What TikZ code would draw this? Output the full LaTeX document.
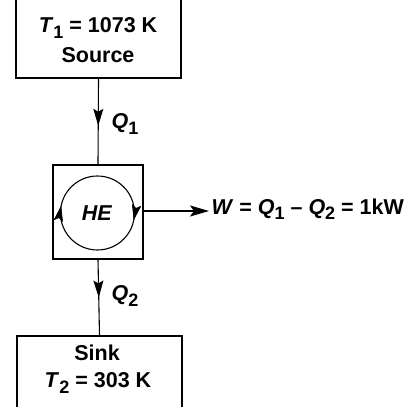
\documentclass[tikz,border=0pt]{standalone}
\usepackage{fontspec}
\setmainfont{Liberation Sans}
\usetikzlibrary{arrows.meta,decorations.markings}
\newcommand{\lowidx}[1]{\raisebox{-0.45ex}{\fontsize{18}{18}\selectfont #1}}
\begin{document}
\begin{tikzpicture}[x=1pt,y=-1pt, line width=1.1pt,
  box/.style={draw, rectangle, inner sep=0pt, line width=1.2pt},
  txt/.style={font=\fontsize{21.5}{25}\selectfont\bfseries, inner sep=0pt},
  midtip/.style={postaction=decorate, decoration={markings, mark=at position #1 with {\arrow{Stealth[length=17pt,width=10pt,inset=3pt]}}}},
  cyctip/.style={postaction=decorate, decoration={markings, mark=at position #1 with {\arrow{Stealth[length=15pt,width=9pt,inset=3pt]}}}},
  endtip/.style={-{Stealth[length=19pt,width=11pt,inset=4pt]}}]
\useasboundingbox (0,0) rectangle (416,407);
% boxes
\node[box, minimum width=165pt, minimum height=110pt] (src) at (98.5,23) {};
\node[box, minimum width=90pt, minimum height=94pt] (he) at (98,212) {};
\node[box, minimum width=165pt, minimum height=110pt] (sink) at (99.5,391) {};
% texts
\node[txt] (t1) at (98,28) {\textit{T}\lowidx{1} = 1073 K};
\node[txt] (srclbl) at (98,55) {Source};
\node[txt] (sinklbl) at (97,353) {Sink};
\node[txt] (t2) at (98,383) {\textit{T}\lowidx{2} = 303 K};
\node[txt] (helbl) at (97,213) {\textit{HE}};
% cycle
\node[circle, minimum size=74pt, inner sep=0pt] (cyc) at (98,213) {};
\draw[cyctip=0.03, cyctip=0.53] (cyc.west) arc[start angle=180, end angle=540, radius=37];
% heat flows
\draw[midtip=0.55] (src.south) -- (he.north);
\node[txt, anchor=west] (q1) at (111,124) {\textit{Q}\lowidx{1}};
\draw[midtip=0.5] (he.south) -- (sink.north);
\node[txt, anchor=west] (q2) at (111,296) {\textit{Q}\lowidx{2}};
% work
\coordinate (wend) at (209,211);
\draw[endtip] (he.east |- wend) -- (wend);
\node[txt, anchor=west] (wlbl) at (211,209) {\textit{W} = \textit{Q}\lowidx{1} – \textit{Q}\lowidx{2} = 1kW};
\end{tikzpicture}
\end{document}
